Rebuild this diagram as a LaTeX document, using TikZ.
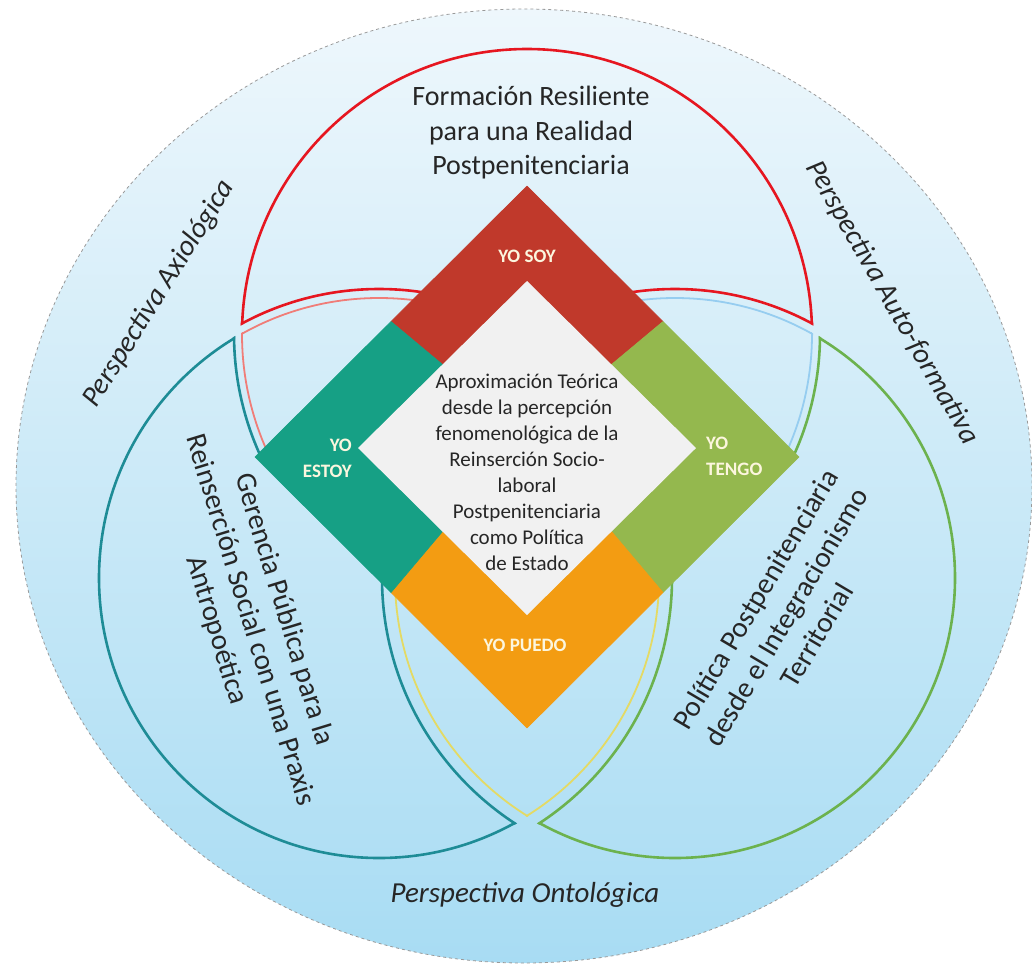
\documentclass[tikz,border=0pt]{standalone}
\usepackage{fontspec}
\setmainfont{Carlito}
\usepackage{tikz}
\usetikzlibrary{calc}
\definecolor{soyred}{RGB}{192,57,43}
\definecolor{estoyteal}{RGB}{22,160,133}
\definecolor{tengogreen}{RGB}{148,184,78}
\definecolor{puedoorange}{RGB}{243,156,18}
\definecolor{centrogray}{RGB}{241,241,241}
\definecolor{arcred}{RGB}{230,22,32}
\definecolor{arcteal}{RGB}{30,140,150}
\definecolor{arcgreen}{RGB}{108,178,78}
\definecolor{lensred}{RGB}{240,125,120}
\definecolor{lensblue}{RGB}{150,205,240}
\definecolor{lensyellow}{RGB}{228,218,100}
\definecolor{skytop}{RGB}{238,247,252}
\definecolor{skybottom}{RGB}{168,220,243}
\definecolor{txtdark}{RGB}{38,38,38}
\definecolor{yotxt}{RGB}{252,246,222}
\begin{document}
\begin{tikzpicture}[x=1pt,y=-1pt,
		cutout/.style={insert path={(0,0) -- (0,967) -- (1032,967) -- (1032,0) -- cycle}},
		crescent/.style={line width=2.6pt},
		lens/.style={line width=1.8pt},
		band/.style={line width=0.6pt, line join=round},
		yo/.style={text=yotxt, inner sep=0pt, font=\fontsize{19}{26}\selectfont\bfseries},
		big/.style={text=txtdark, align=center, font=\fontsize{29}{35.5}\selectfont},
		persp/.style={text=txtdark, font=\fontsize{29}{35}\selectfont\itshape}]
	\useasboundingbox (0,0) rectangle (1032,967);
	\shade[top color=skytop, bottom color=skybottom, draw=gray!80, dashed, line width=0.8pt] (524,486) ellipse[x radius=508, y radius=477];

	\coordinate (cr) at (527,334);
	\coordinate (ct) at (379,578);
	\coordinate (cg) at (675,578);

	\begin{scope}
		\clip[cutout] (ct) circle[radius=288];
		\clip[cutout] (cg) circle[radius=288];
		\draw[crescent, arcred] (cr) circle[radius=285];
	\end{scope}
	\begin{scope}
		\clip (cr) circle[radius=286.5];
		\clip (0,0) rectangle (1032,465);
		\draw[crescent, arcred] (ct) circle[radius=289] (cg) circle[radius=289];
	\end{scope}

	\begin{scope}
		\clip[cutout] (cr) circle[radius=292];
		\clip[cutout] (cg) circle[radius=292];
		\draw[crescent, arcteal] (ct) circle[radius=280];
	\end{scope}
	\begin{scope}
		\clip (ct) circle[radius=281.5];
		\clip (0,0) rectangle (1032,465);
		\draw[crescent, arcteal] (cr) circle[radius=293];
	\end{scope}
	\begin{scope}
		\clip (ct) circle[radius=281.5];
		\clip (0,465) rectangle (1032,967);
		\draw[crescent, arcteal] (cg) circle[radius=293];
	\end{scope}

	\begin{scope}
		\clip[cutout] (cr) circle[radius=292];
		\clip[cutout] (ct) circle[radius=292];
		\draw[crescent, arcgreen] (cg) circle[radius=280];
	\end{scope}
	\begin{scope}
		\clip (cg) circle[radius=281.5];
		\clip (0,0) rectangle (1032,465);
		\draw[crescent, arcgreen] (cr) circle[radius=293];
	\end{scope}
	\begin{scope}
		\clip (cg) circle[radius=281.5];
		\clip (0,465) rectangle (1032,967);
		\draw[crescent, arcgreen] (ct) circle[radius=293];
	\end{scope}

	\begin{scope}
		\clip (0,0) rectangle (527,465);
		\begin{scope}
			\clip (ct) circle[radius=281];
			\draw[lens, lensred] (cr) circle[radius=285];
		\end{scope}
		\clip (cr) circle[radius=286];
		\draw[lens, lensred] (ct) circle[radius=280];
	\end{scope}
	\begin{scope}
		\clip (527,0) rectangle (1032,465);
		\begin{scope}
			\clip (cg) circle[radius=281];
			\draw[lens, lensblue] (cr) circle[radius=285];
		\end{scope}
		\clip (cr) circle[radius=286];
		\draw[lens, lensblue] (cg) circle[radius=280];
	\end{scope}
	\begin{scope}
		\clip (0,465) rectangle (1032,967);
		\begin{scope}
			\clip (cg) circle[radius=281];
			\draw[lens, lensyellow] (ct) circle[radius=280];
		\end{scope}
		\clip (ct) circle[radius=281];
		\draw[lens, lensyellow] (cg) circle[radius=280];
	\end{scope}

	\coordinate (T) at (527,186);
	\coordinate (R) at (799,457);
	\coordinate (B) at (527,728);
	\coordinate (L) at (255,457);
	\coordinate (ti) at (527,281);
	\coordinate (ri) at (696,448);
	\coordinate (bi) at (527,615);
	\coordinate (li) at (358,448);
	\filldraw[band, soyred] (T) -- ($(T)!.5!(R)$) -- ($(ti)!.5!(ri)$) -- (ti) -- ($(ti)!.5!(li)$) -- ($(T)!.5!(L)$) -- cycle;
	\filldraw[band, tengogreen] (R) -- ($(R)!.5!(B)$) -- ($(ri)!.5!(bi)$) -- (ri) -- ($(ri)!.5!(ti)$) -- ($(R)!.5!(T)$) -- cycle;
	\filldraw[band, puedoorange] (B) -- ($(B)!.5!(L)$) -- ($(bi)!.5!(li)$) -- (bi) -- ($(bi)!.5!(ri)$) -- ($(B)!.5!(R)$) -- cycle;
	\filldraw[band, estoyteal] (L) -- ($(L)!.5!(T)$) -- ($(li)!.5!(ti)$) -- (li) -- ($(li)!.5!(bi)$) -- ($(L)!.5!(B)$) -- cycle;
	\fill[centrogray] (ti) -- (ri) -- (bi) -- (li) -- cycle;

	\node[yo] (soy) at (527,256) {YO SOY};
	\node[yo] (puedo) at (525,645) {YO PUEDO};
	\node[yo, align=right, anchor=east] (estoy) at (352,458) {YO\\ESTOY};
	\node[yo, align=left, anchor=west] (tengo) at (706,456) {YO\\TENGO};

	\node[text=txtdark, align=center, font=\fontsize{21}{26}\selectfont] (centro) at (527,472) {Aproximación Teórica\\desde la percepción\\fenomenológica de la\\Reinserción Socio-\\laboral\\Postpenitenciaria\\como Política\\de Estado};
	\node[big, font=\fontsize{28}{34.5}\selectfont] (formacion) at (531,133) {Formación Resiliente\\para una Realidad\\Postpenitenciaria};
	\node[big, rotate=-73] (gerencia) at (250,620) {Gerencia Pública para la\\Reinserción Social con una Praxis\\Antropoética};
	\node[big, rotate=59.4] (politica) at (786,617) {Política Postpenitenciaria\\desde el Integracionismo\\Territorial};
	\node[persp, rotate=58] (axiologica) at (159,294) {Perspectiva Axiológica};
	\node[persp, rotate=-60.3] (autoformativa) at (892,303) {Perspectiva Auto-formativa};
	\node[persp] (ontologica) at (525,895) {Perspectiva Ontológica};
\end{tikzpicture}
\end{document}
